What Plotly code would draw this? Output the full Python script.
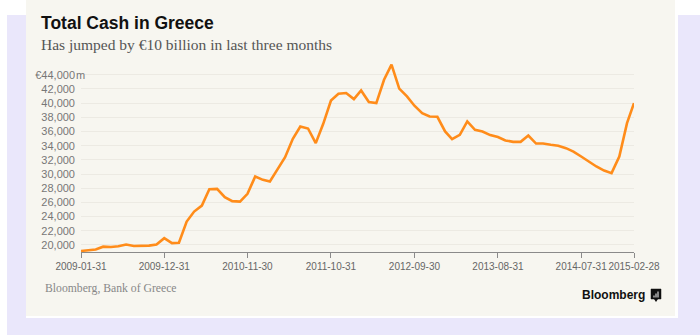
import pandas as pd
import plotly.graph_objects as go

# ---- data ----
start_month = "2009-01-31"
n_months = 74
cash_eur_m = [
    19150, 19250, 19350, 19750, 19700, 19800, 20050, 19850, 19850, 19900,
    20050, 20950, 20250, 20300, 23290, 24700, 25550, 27860, 27900, 26730,
    26170, 26110, 27200, 29650, 29180, 28940, 30690, 32380, 34970, 36700,
    36420, 34360, 37080, 40370, 41320, 41420, 40570, 41790, 40150, 40000,
    43300, 45420, 42050, 40940, 39630, 38590, 38120, 38070, 36000, 34920,
    35530, 37410, 36240, 36000, 35490, 35210, 34730, 34540, 34540, 35430,
    34300, 34300, 34120, 33980, 33650, 33170, 32470, 31720, 31060, 30490,
    30120, 32470, 37180, 40000,
]
x_tick_labels = ["2009-01-31", "2009-12-31", "2010-11-30", "2011-10-31",
                 "2012-09-30", "2013-08-31", "2014-07-31", "2015-02-28"]
y_tick_values = list(range(20000, 44001, 2000))
y_tick_labels = [f"{v:,}" for v in y_tick_values[:-1]] + ["€44,000"]

dates = pd.date_range(start_month, periods=n_months, freq="ME")

# ---- layout geometry (pixels) ----
W, H = 700, 335
L, R, T, B = 81, 634, 62, 252


def px(x):
    return (x - L) / (R - L)


def py(y):
    return (B - y) / (B - T)


CREAM = "#F7F6F0"
LAV = "#EAE7FB"

fig = go.Figure()
fig.add_trace(go.Scatter(
    x=dates, y=cash_eur_m, mode="lines",
    line=dict(color="#FF8C1A", width=2.6),
    hoverinfo="skip", showlegend=False,
))

shapes = []
# dotted surround (approximated by flat lavender)
for x0, y0, x1, y1 in [(7, 15, 26, 335), (678, 15, 700, 335), (7, 318, 700, 335)]:
    shapes.append(dict(type="rect", xref="paper", yref="paper",
                       x0=px(x0), x1=px(x1), y0=py(y1), y1=py(y0),
                       fillcolor=LAV, line=dict(width=0), layer="below"))
# card
shapes.append(dict(type="rect", xref="paper", yref="paper",
                   x0=px(26), x1=px(675), y0=py(316), y1=py(0),
                   fillcolor=CREAM, line=dict(width=0), layer="below"))
# bloomberg icon
shapes.append(dict(type="rect", xref="paper", yref="paper",
                   x0=px(651), x1=px(661), y0=py(299), y1=py(289),
                   fillcolor="#111111", line=dict(width=0.5, color="#111111")))
shapes.append(dict(type="path", xref="paper", yref="paper",
                   path=f"M {px(654)} {py(299)} L {px(656)} {py(302)} L {px(658)} {py(299)} Z",
                   fillcolor="#111111", line=dict(width=0)))
for bx, top in [(653.5, 295.5), (655.5, 293.5), (657.5, 291.5)]:
    shapes.append(dict(type="rect", xref="paper", yref="paper",
                       x0=px(bx), x1=px(bx + 1), y0=py(297.5), y1=py(top),
                       fillcolor="#FFFFFF", line=dict(width=0)))

annotations = [
    dict(text="Total Cash in Greece", x=px(38.5), y=py(23), xref="paper", yref="paper",
         xanchor="left", yanchor="middle", showarrow=False,
         font=dict(family="Liberation Sans", size=17.5, color="#111111", weight="bold")),
    dict(text="Has jumped by €10 billion in last three months", x=px(38.5), y=py(45),
         xref="paper", yref="paper", xanchor="left", yanchor="middle", showarrow=False,
         font=dict(family="Liberation Serif", size=15.5, color="#555555")),
    dict(text="m", x=px(74.5), y=44000, xref="paper", yref="y",
         xanchor="left", yanchor="middle", showarrow=False, borderpad=0,
         font=dict(family="Liberation Sans", size=11, color="#777777")),
    dict(text="Bloomberg, Bank of Greece", x=px(42.5), y=py(288), xref="paper", yref="paper",
         xanchor="left", yanchor="middle", showarrow=False,
         font=dict(family="Liberation Serif", size=11.7, color="#888888")),
    dict(text="Bloomberg", x=px(647), y=py(295), xref="paper", yref="paper",
         xanchor="right", yanchor="middle", showarrow=False,
         font=dict(family="Liberation Sans", size=12, color="#111111", weight="bold")),
]

fig.update_layout(
    width=W, height=H,
    margin=dict(l=L, r=W - R, t=T, b=H - B, pad=0),
    paper_bgcolor="#FFFFFF", plot_bgcolor=CREAM,
    shapes=shapes, annotations=annotations,
    hovermode=False,
    xaxis=dict(
        range=[dates[0], dates[-1]],
        tickvals=pd.to_datetime(x_tick_labels), ticktext=x_tick_labels,
        tickangle=0,
        showgrid=False, zeroline=False,
        showline=True, linecolor="#8A8A8A", linewidth=1,
        ticks="outside", ticklen=5, tickcolor="#8A8A8A", tickwidth=1,
        tickfont=dict(family="Liberation Sans", size=10, color="#666666"),
        fixedrange=True,
    ),
    yaxis=dict(
        range=[19000, 45800],
        tickvals=y_tick_values, ticktext=y_tick_labels,
        showgrid=True, gridcolor="#ECEAE3", gridwidth=1,
        zeroline=False, showline=False, ticks="",
        ticklabelstandoff=5,
        tickfont=dict(family="Liberation Sans", size=11, color="#777777"),
        fixedrange=True,
    ),
)

fig.write_html("out.html", config={"displayModeBar": False})
